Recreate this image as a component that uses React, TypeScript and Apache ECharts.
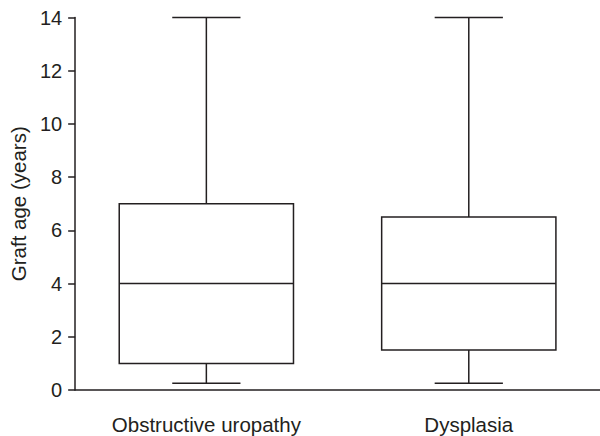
import React, { useEffect, useRef } from "react";
import * as echarts from "echarts";

const categories = ["Obstructive uropathy", "Dysplasia"];
// [min, q1, median, q3, max]
const boxValues = [
  [0.25, 1, 4, 7, 14],
  [0.25, 1.5, 4, 6.5, 14],
];
const yTicks = { min: 0, max: 14, interval: 2 };
const INK = "#231f20";
const FONT = "'Liberation Sans', Arial, sans-serif";

export default function App() {
  const ref = useRef<HTMLDivElement>(null);
  useEffect(() => {
    document.body.style.margin = "0";
    const chart = echarts.init(ref.current!, undefined, { renderer: "svg" });
    chart.setOption({
      animation: false,
      backgroundColor: "#ffffff",
      textStyle: { fontFamily: FONT },
      grid: { left: 72, right: -2.5, top: 17.5, bottom: 46, containLabel: false },
      xAxis: {
        type: "category",
        data: categories,
        axisLine: { lineStyle: { color: INK, width: 1.5 } },
        axisTick: { alignWithLabel: true, length: 8, lineStyle: { color: INK, width: 1.5 } },
        axisLabel: { color: INK, fontSize: 20.5, margin: 24, fontFamily: FONT },
        splitLine: { show: false },
      },
      yAxis: {
        type: "value",
        min: yTicks.min,
        max: yTicks.max,
        interval: yTicks.interval,
        name: "Graft age (years)",
        nameLocation: "middle",
        nameRotate: 90,
        nameGap: 44,
        nameTextStyle: { color: INK, fontSize: 20.5, fontFamily: FONT },
        axisLine: { show: true, lineStyle: { color: INK, width: 1.5 } },
        axisTick: { show: true, length: 7, lineStyle: { color: INK, width: 1.5 } },
        axisLabel: { color: INK, fontSize: 20, margin: 13, fontFamily: FONT },
        splitLine: { show: false },
      },
      series: [
        {
          type: "custom",
          data: boxValues.map((v, i) => [i, ...v]),
          encode: { x: 0, y: [1, 2, 3, 4, 5] },
          renderItem: (params: any, api: any) => {
            const i = api.value(0);
            const [mn, q1, md, q3, mx] = [1, 2, 3, 4, 5].map((k) => api.value(k));
            const band = api.size([1, 0])[0];
            const cx = api.coord([i, 0])[0];
            const boxW = band * 0.664;
            const capW = band * 0.26;
            const y = (v: number) => api.coord([i, v])[1];
            const st = { stroke: INK, lineWidth: 1.5, fill: "none" };
            return {
              type: "group",
              children: [
                { type: "rect", shape: { x: cx - boxW / 2, y: y(q3), width: boxW, height: y(q1) - y(q3) }, style: { ...st, fill: "#fff" } },
                { type: "line", shape: { x1: cx - boxW / 2, y1: y(md), x2: cx + boxW / 2, y2: y(md) }, style: st },
                { type: "line", shape: { x1: cx, y1: y(q3), x2: cx, y2: y(mx) }, style: st },
                { type: "line", shape: { x1: cx, y1: y(q1), x2: cx, y2: y(mn) }, style: st },
                { type: "line", shape: { x1: cx - capW / 2, y1: y(mx), x2: cx + capW / 2, y2: y(mx) }, style: st },
                { type: "line", shape: { x1: cx - capW / 2, y1: y(mn), x2: cx + capW / 2, y2: y(mn) }, style: st },
              ],
            };
          },
        },
      ],
    });
    return () => chart.dispose();
  }, []);
  return <div ref={ref} style={{ width: 600, height: 436 }} />;
}
